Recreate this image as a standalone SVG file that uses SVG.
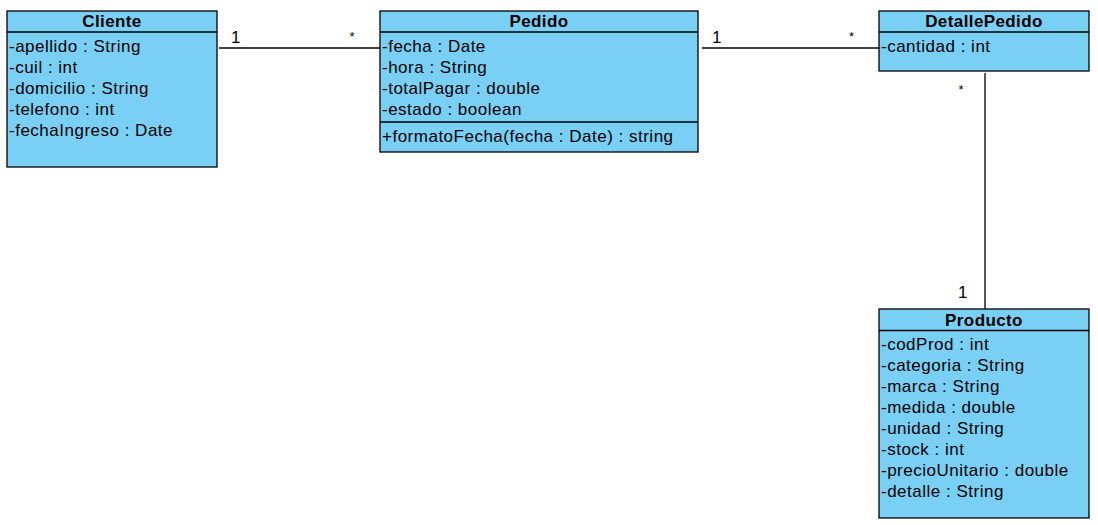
<svg xmlns="http://www.w3.org/2000/svg" width="1098" height="525" viewBox="0 0 1098 525">
<style>
.box{fill:#7ACFF5;stroke:#000;stroke-width:1.3}
.div{stroke:#000;stroke-width:1.3}
.t{font-family:"Liberation Sans",Arial,sans-serif;font-size:17px;letter-spacing:0.5px;fill:#000}
.h{font-family:"Liberation Sans",Arial,sans-serif;font-size:17px;font-weight:bold;letter-spacing:0.4px;fill:#000;text-anchor:middle}
.m{font-family:"Liberation Sans",Arial,sans-serif;font-size:17px;fill:#000}
.s{font-family:"Liberation Sans",Arial,sans-serif;font-size:13px;fill:#000}
.c{stroke:#000;stroke-width:1.3;fill:none}
</style>
<rect width="1098" height="525" fill="#fff"/>
<g id="connectors">
<line class="c" x1="219" y1="48" x2="380" y2="48"/>
<line class="c" x1="702" y1="48" x2="880" y2="48"/>
<line class="c" x1="985" y1="73" x2="985" y2="309"/>
<text class="m" x="231" y="43">1</text>
<text class="s" x="349.5" y="41">*</text>
<text class="m" x="712" y="43">1</text>
<text class="s" x="849" y="41">*</text>
<text class="s" x="958.5" y="94">*</text>
<text class="m" x="958" y="298">1</text>
</g>
<g id="Cliente">
<rect class="box" x="7" y="11" width="210" height="156"/>
<line class="div" x1="7" y1="32" x2="217" y2="32"/>
<text class="h" x="112" y="27">Cliente</text>
<text class="t" x="9" y="51.5">-apellido : String</text>
<text class="t" x="9" y="72.5">-cuil : int</text>
<text class="t" x="9" y="93.5">-domicilio : String</text>
<text class="t" x="9" y="114.5">-telefono : int</text>
<text class="t" x="9" y="135.5">-fechaIngreso : Date</text>
</g>
<g id="Pedido">
<rect class="box" x="380" y="11" width="318" height="141"/>
<line class="div" x1="380" y1="32" x2="698" y2="32"/>
<line class="div" x1="380" y1="122" x2="698" y2="122"/>
<text class="h" x="539" y="27">Pedido</text>
<text class="t" x="382" y="51.5">-fecha : Date</text>
<text class="t" x="382" y="72.5">-hora : String</text>
<text class="t" x="382" y="93.5">-totalPagar : double</text>
<text class="t" x="382" y="114.5">-estado : boolean</text>
<text class="t" x="382" y="142">+formatoFecha(fecha : Date) : string</text>
</g>
<g id="DetallePedido">
<rect class="box" x="879" y="11" width="210" height="60"/>
<line class="div" x1="879" y1="32" x2="1089" y2="32"/>
<text class="h" x="984" y="27">DetallePedido</text>
<text class="t" x="881" y="51.5">-cantidad : int</text>
</g>
<g id="Producto">
<rect class="box" x="879" y="309" width="210" height="209"/>
<line class="div" x1="879" y1="330.5" x2="1089" y2="330.5"/>
<text class="h" x="984" y="326">Producto</text>
<text class="t" x="881" y="350">-codProd : int</text>
<text class="t" x="881" y="371">-categoria : String</text>
<text class="t" x="881" y="392">-marca : String</text>
<text class="t" x="881" y="413">-medida : double</text>
<text class="t" x="881" y="434">-unidad : String</text>
<text class="t" x="881" y="455">-stock : int</text>
<text class="t" x="881" y="476">-precioUnitario : double</text>
<text class="t" x="881" y="497">-detalle : String</text>
</g>
</svg>
